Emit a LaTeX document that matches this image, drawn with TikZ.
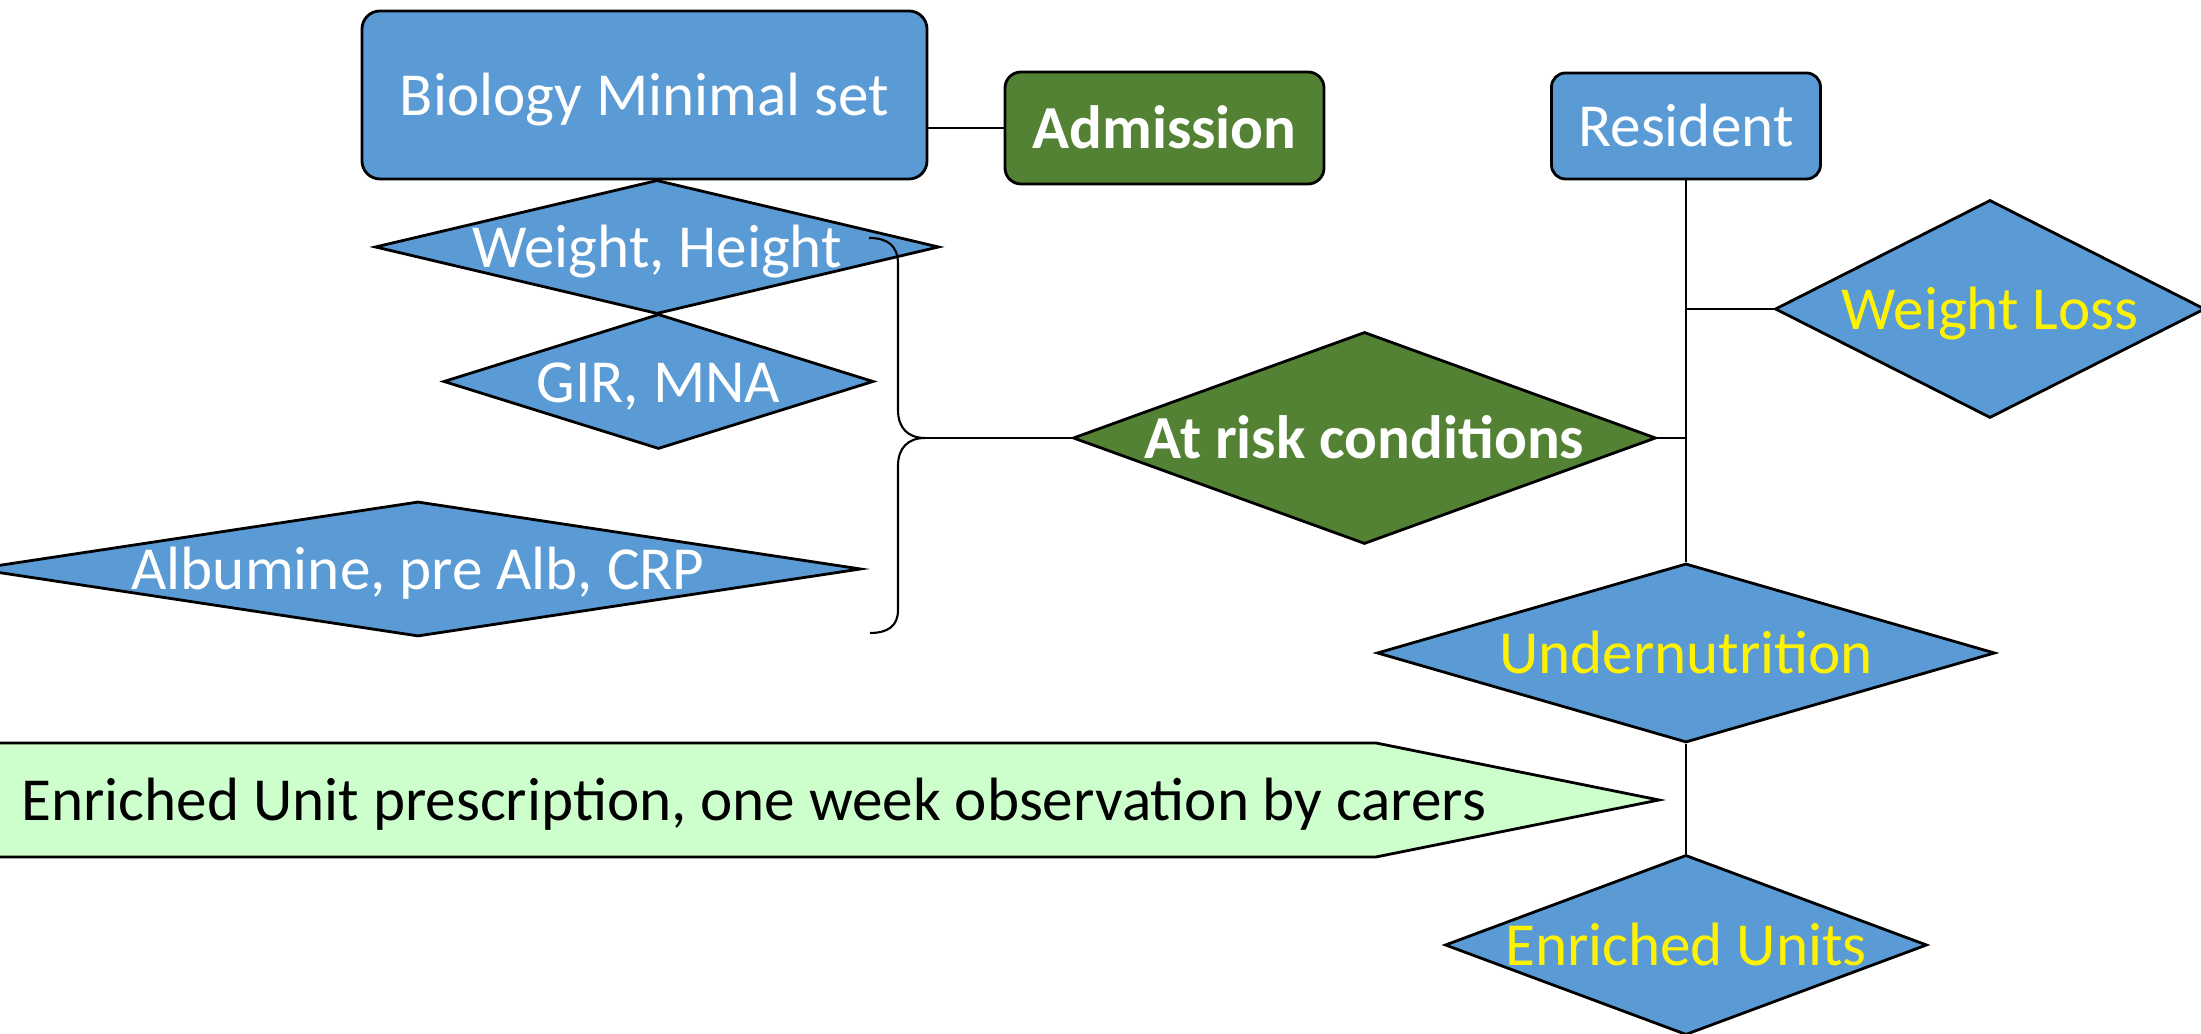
\documentclass[tikz,border=0pt]{standalone}
\usepackage{fontspec}
\setmainfont{Carlito}
\usetikzlibrary{shapes.geometric}
\definecolor{boxblue}{RGB}{91,155,213}
\definecolor{boxgreen}{RGB}{84,130,53}
\definecolor{notegreen}{RGB}{204,255,204}
\tikzset{
  base/.style={draw=black, line width=0.8pt, inner sep=0pt,
    text height=11.8pt, text depth=0pt,
    font=\fontsize{17.4}{20}\selectfont},
  bluebox/.style={base, rounded corners=0.18cm, fill=boxblue, text=white},
  greenbox/.style={base, rounded corners=0.16cm, fill=boxgreen, text=white,
    font=\fontsize{17.4}{20}\selectfont\bfseries},
  dia/.style={base, diamond, fill=boxblue, text=white},
  greendia/.style={dia, fill=boxgreen, font=\fontsize{17.4}{20}\selectfont\bfseries},
  yellowdia/.style={dia, text=yellow},
  link/.style={line width=0.6pt}
}

\begin{document}
\begin{tikzpicture}
\useasboundingbox (0,0) rectangle (22.01,10.34);
\clip (0,0) rectangle (22.01,10.34);
% boxes on top
\node[bluebox, minimum width=5.65cm, minimum height=1.68cm] (bio) at (6.445,9.39) {Biology Minimal set};
\node[greenbox, minimum width=3.19cm, minimum height=1.12cm] (adm) at (11.645,9.06) {Admission};
\node[bluebox, rounded corners=0.14cm, minimum width=2.69cm, minimum height=1.06cm] (res) at (16.86,9.08) {Resident};
% left column
\node[dia, minimum width=5.64cm, minimum height=1.34cm] (wh) at (6.57,7.87) {\makebox[0pt]{Weight, Height}};
\node[dia, minimum width=4.30cm, minimum height=1.35cm] (gir) at (6.585,6.525) {\makebox[0pt]{GIR, MNA}};
\node[dia, minimum width=8.86cm, minimum height=1.35cm] (alb) at (4.18,4.65) {\makebox[0pt]{Albumine, pre Alb, CRP}};
% middle and right column
\node[greendia, minimum width=5.83cm, minimum height=2.12cm] (risk) at (13.645,5.96) {\makebox[0pt]{At risk conditions}};
\node[yellowdia, minimum width=4.30cm, minimum height=2.18cm] (loss) at (19.90,7.25) {\makebox[0pt]{Weight Loss}};
\node[yellowdia, minimum width=6.18cm, minimum height=1.79cm] (under) at (16.86,3.81) {\makebox[0pt]{Undernutrition}};
\node[yellowdia, minimum width=4.82cm, minimum height=1.80cm] (units) at (16.86,0.89) {\makebox[0pt]{Enriched Units}};
% prescription banner
\draw[base, fill=notegreen] (-0.1,2.91) -- (13.76,2.91) -- (16.59,2.34) -- (13.76,1.77) -- (-0.1,1.77) -- cycle;
\node[anchor=west, inner sep=0pt, text height=11.8pt, text depth=0pt, font=\fontsize{17.4}{20}\selectfont] (obs) at (0.21,2.34) {Enriched Unit prescription, one week observation by carers};
% brace
\coordinate (tip) at (9.25,5.96);
\draw[link] (8.69,7.96) .. controls (8.88,7.96) and (8.98,7.88) .. (8.98,7.70) -- (8.98,6.24)
  .. controls (8.98,6.06) and (9.08,5.96) .. (tip)
  .. controls (9.08,5.96) and (8.98,5.86) .. (8.98,5.68) -- (8.98,4.24)
  .. controls (8.98,4.08) and (8.88,4.01) .. (8.70,4.01);
% connectors
\draw[link] (bio.east |- adm.west) -- (adm.west);
\draw[link] (tip) -- (risk.west);
\draw[link] (res.south) -- (under.north);
\draw[link] (loss.west) -- (loss.west -| res.south);
\draw[link] (risk.east) -- (risk.east -| res.south);
\draw[link] (under.south) -- (units.north);
\end{tikzpicture}
\end{document}
